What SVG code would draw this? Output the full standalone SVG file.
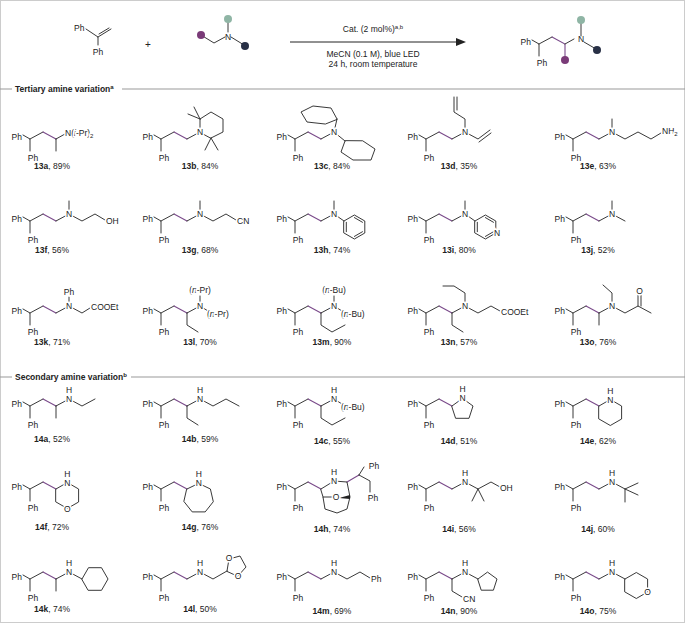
<svg xmlns="http://www.w3.org/2000/svg" width="685" height="624" viewBox="0 0 685 624">
<style>
text{font-family:"Liberation Sans",Arial,sans-serif;font-size:8.5px;fill:#222}
.b{stroke:#222;stroke-width:0.9;fill:none;stroke-linecap:round;stroke-linejoin:round}
.p{stroke:#7a4a8a;stroke-width:1.1;fill:none;stroke-linecap:round}
.a{stroke:#fff;stroke-width:3;paint-order:stroke;text-anchor:middle}
.m{text-anchor:middle}
.lab{text-anchor:middle;font-size:8.5px}
.hd{font-weight:bold;font-size:8.5px}
.g{stroke:#999;stroke-width:1}
</style>
<defs>
<g id="core"><path class="b" d="M-7,-4 L0,0 L0,12 M0,0 L13,-7"/><text x="-8" y="1" text-anchor="end">Ph</text><text x="3" y="22" class="m">Ph</text></g>
</defs>
<rect x="0.5" y="0.5" width="684" height="622" fill="#fff" stroke="#ccc"/>

<g id="scheme">
<text x="74" y="31">Ph</text>
<path class="b" d="M86,29 L98,37 L98,45 M98,37 L111,29 M99,34 L109,28"/>
<text x="98" y="55" class="m">Ph</text>
<text x="148" y="48" class="m" style="font-size:10px">+</text>
<path class="b" d="M201,35 L214,43 L225,37 M231,37 L244,45 M228,32 L228,20"/>
<circle cx="201" cy="35" r="4" fill="#7a3b78"/><circle cx="228" cy="19" r="4" fill="#8fb5a5"/><circle cx="245" cy="46" r="4" fill="#283046"/>
<text x="228" y="40" class="m">N</text>
<line x1="290" y1="42" x2="460" y2="42" stroke="#222" stroke-width="1"/>
<path d="M466,42 L456,38 L456,46 Z" fill="#222"/>
<text x="373" y="32" class="m">Cat. (2 mol%)<tspan dy="-3" style="font-size:6px">a,b</tspan></text>
<text x="373" y="57" class="m">MeCN (0.1 M), blue LED</text>
<text x="373" y="67" class="m">24 h, room temperature</text>
<use href="#core" x="539" y="44"/>
<path class="p" d="M552,37 L565,44 L565,58"/>
<path class="b" d="M565,44 L574,39 M581,36 L581,22 M584,42 L596,49"/>
<text x="581" y="42" class="m">N</text>
<circle cx="565" cy="60" r="4" fill="#7a3b78"/><circle cx="581" cy="20" r="4" fill="#8fb5a5"/><circle cx="597" cy="50" r="4" fill="#283046"/>
</g>

<g id="headers">
<line class="g" x1="0" y1="89" x2="12" y2="89"/><line class="g" x1="122" y1="89" x2="685" y2="89"/>
<text x="15" y="92" class="hd">Tertiary amine variation<tspan dy="-3" style="font-size:6px">a</tspan></text>
<line class="g" x1="0" y1="377" x2="12" y2="377"/><line class="g" x1="131" y1="377" x2="685" y2="377"/>
<text x="15" y="380" class="hd">Secondary amine variation<tspan dy="-3" style="font-size:6px">b</tspan></text>
</g>

<g id="c13a" transform="translate(30,139)"><use href="#core"/><path class="p" d="M13,-7 L26,0"/><path class="b" d="M26,0 L26,12 M26,0 L35,-5"/><text x="35" y="-3" class="a" style="text-anchor:start">N(<tspan font-style="italic">i</tspan>-Pr)<tspan dy="2" style="font-size:6px">2</tspan></text></g>
<g id="c13b" transform="translate(161,139)"><use href="#core"/><path class="p" d="M13,-7 L26,0"/><path class="b" d="M26,0 L39,-7 M39,-7 L39,-20 L50,-27 L62,-20 L62,-7 L50,-1 Z M39,-20 L27,-25 M39,-20 L33,-32 M50,-1 L44,11 M50,-1 L57,11"/><text x="39" y="-4" class="a">N</text></g>
<g id="c13c" transform="translate(295,139)"><use href="#core"/><path class="p" d="M13,-7 L26,0"/><path class="b" d="M26,0 L39,-7 L42,-20 M42,-20 L36,-31 L18,-33 L6,-27 L12,-17 L30,-15 Z M39,-7 L50,2 M50,2 L46,13 L58,21 L76,21 L80,10 L68,2 Z"/><text x="39" y="-4" class="a">N</text></g>
<g id="c13d" transform="translate(426,139)"><use href="#core"/><path class="p" d="M13,-7 L26,0"/><path class="b" d="M26,0 L39,-7 L39,-20 L28,-27 L28,-42 M31,-29 L31,-42 M39,-7 L52,0 L64,-9 M53,3 L65,-6"/><text x="39" y="-4" class="a">N</text></g>
<g id="c13e" transform="translate(573,139)"><use href="#core"/><path class="p" d="M13,-7 L26,0"/><path class="b" d="M26,0 L39,-7 L39,-20 M39,-7 L52,0 L65,-7 L78,0 L88,-6"/><text x="39" y="-4" class="a">N</text><text x="89" y="-5" class="a" style="text-anchor:start">NH<tspan dy="2" style="font-size:6px">2</tspan></text></g>

<g id="c13f" transform="translate(30,221)"><use href="#core"/><path class="p" d="M13,-7 L26,0"/><path class="b" d="M26,0 L39,-7 L39,-20 M39,-7 L52,0 L65,-7 L75,-1"/><text x="39" y="-4" class="a">N</text><text x="76" y="3" class="a" style="text-anchor:start">OH</text></g>
<g id="c13g" transform="translate(161,221)"><use href="#core"/><path class="p" d="M13,-7 L26,0"/><path class="b" d="M26,0 L39,-7 L39,-20 M39,-7 L52,0 L65,-7 L75,-1"/><text x="39" y="-4" class="a">N</text><text x="76" y="3" class="a" style="text-anchor:start">CN</text></g>
<g id="c13h" transform="translate(295,221)"><use href="#core"/><path class="p" d="M13,-7 L26,0"/><path class="b" d="M26,0 L39,-7 L39,-20 M39,-7 L49,0 M49,0 L59.4,-6 L69.8,0 L69.8,12 L59.4,18 L49,12 Z M59.4,-3.4 L67.5,1.3 M67.5,10.7 L59.4,15.4 M51.3,10.7 L51.3,1.3"/><text x="39" y="-4" class="a">N</text></g>
<g id="c13i" transform="translate(426,221)"><use href="#core"/><path class="p" d="M13,-7 L26,0"/><path class="b" d="M26,0 L39,-7 L39,-20 M39,-7 L49,0 M49,0 L59.4,-6 L69.8,0 L69.8,12 L59.4,18 L49,12 Z M59.4,-3.4 L67.5,1.3 M67.5,10.7 L59.4,15.4 M51.3,10.7 L51.3,1.3"/><text x="39" y="-4" class="a">N</text><text x="71" y="15" class="a">N</text></g>
<g id="c13j" transform="translate(573,221)"><use href="#core"/><path class="p" d="M13,-7 L26,0"/><path class="b" d="M26,0 L39,-7 L39,-20 M39,-7 L52,0"/><text x="39" y="-4" class="a">N</text></g>

<g id="c13k" transform="translate(30,313)"><use href="#core"/><path class="p" d="M13,-7 L26,0"/><path class="b" d="M26,0 L39,-7 L39,-16 M39,-7 L52,0 L60,-5"/><text x="39" y="-4" class="a">N</text><text x="39" y="-18" class="a">Ph</text><text x="61" y="-3" class="a" style="text-anchor:start">COOEt</text></g>
<g id="c13l" transform="translate(161,313)"><use href="#core"/><path class="p" d="M13,-7 L26,0"/><path class="b" d="M26,0 L26,12 L37,19 M26,0 L39,-7 L39,-17 M39,-7 L47,-2"/><text x="39" y="-4" class="a">N</text><text x="39" y="-20" class="a">(<tspan font-style="italic">n</tspan>-Pr)</text><text x="46" y="4" class="a" style="text-anchor:start">(<tspan font-style="italic">n</tspan>-Pr)</text></g>
<g id="c13m" transform="translate(295,313)"><use href="#core"/><path class="p" d="M13,-7 L26,0"/><path class="b" d="M26,0 L26,12 L37,19 L50,12 M26,0 L39,-7 L39,-17 M39,-7 L47,-2"/><text x="39" y="-4" class="a">N</text><text x="39" y="-20" class="a">(<tspan font-style="italic">n</tspan>-Bu)</text><text x="46" y="4" class="a" style="text-anchor:start">(<tspan font-style="italic">n</tspan>-Bu)</text></g>
<g id="c13n" transform="translate(426,313)"><use href="#core"/><path class="p" d="M13,-7 L26,0"/><path class="b" d="M26,0 L26,12 L37,19 M26,0 L39,-7 L39,-20 L28,-27 L17,-27 M39,-7 L52,0 L65,-7 L74,-2"/><text x="39" y="-4" class="a">N</text><text x="75" y="2" class="a" style="text-anchor:start">COOEt</text></g>
<g id="c13o" transform="translate(573,313)"><use href="#core"/><path class="p" d="M13,-7 L26,0"/><path class="b" d="M26,0 L26,12 M26,0 L39,-7 L39,-20 L30,-28 M39,-7 L52,0 L65,-7 L78,0 M65,-7 L65,-18 M68,-7 L68,-18"/><text x="39" y="-4" class="a">N</text><text x="66.5" y="-19" class="a">O</text></g>

<g id="c14a" transform="translate(30,406)"><use href="#core"/><path class="p" d="M13,-7 L26,0"/><path class="b" d="M26,0 L26,12 M26,0 L39,-7 L52,0 L65,-7"/><text x="39" y="-4" class="a">N</text><text x="39" y="-13" class="m">H</text></g>
<g id="c14b" transform="translate(161,406)"><use href="#core"/><path class="p" d="M13,-7 L26,0"/><path class="b" d="M26,0 L26,12 L37,19 M26,0 L39,-7 L52,0 L65,-7 L78,0"/><text x="39" y="-4" class="a">N</text><text x="39" y="-13" class="m">H</text></g>
<g id="c14c" transform="translate(295,406)"><use href="#core"/><path class="p" d="M13,-7 L26,0"/><path class="b" d="M26,0 L26,12 L37,19 L50,12 M26,0 L39,-7 L47,-2"/><text x="39" y="-4" class="a">N</text><text x="39" y="-13" class="m">H</text><text x="46" y="4" class="a" style="text-anchor:start">(<tspan font-style="italic">n</tspan>-Bu)</text></g>
<g id="c14d" transform="translate(426,406)"><use href="#core"/><path class="p" d="M13,-7 L26,0"/><path class="b" d="M26,0 L36.5,-7.6 L47,0 L43,12.3 L30,12.3 Z"/><text x="36.5" y="-4.6" class="a">N</text><text x="36.5" y="-13.6" class="m">H</text></g>
<g id="c14e" transform="translate(573,406)"><use href="#core"/><path class="p" d="M13,-7 L26,0"/><path class="b" d="M26,0 L37.3,-6.5 L48.6,0 L48.6,13 L37.3,19.5 L26,13 Z"/><text x="37.3" y="-3.5" class="a">N</text><text x="37.3" y="-12.5" class="m">H</text></g>

<g id="c14f" transform="translate(30,489)"><use href="#core"/><path class="p" d="M13,-7 L26,0"/><path class="b" d="M26,0 L37.3,-6.5 L48.6,0 L48.6,13 L37.3,19.5 L26,13 Z"/><text x="37.3" y="-3.5" class="a">N</text><text x="37.3" y="-12.5" class="m">H</text><text x="37.3" y="22.5" class="a">O</text></g>
<g id="c14g" transform="translate(161,489)"><use href="#core"/><path class="p" d="M13,-7 L26,0"/><path class="b" d="M26,0 L37.7,-5.6 L49.4,0 L52.3,12.7 L44.2,22.9 L31.2,22.9 L23.1,12.7 Z"/><text x="37.7" y="-2.6" class="a">N</text><text x="37.7" y="-11.6" class="m">H</text></g>
<g id="c14h" transform="translate(295,489)"><use href="#core"/><path class="p" d="M13,-7 L26,0 M52,-7 L64,-14"/><path class="b" d="M26,0 L39,-8 L52,-7 L55,8 L52,20 L42,24 L30,20 L28,8 Z M64,-14 L75,-8 L75,3 M64,-14 L69,-22 M28,8 L38,8"/><path d="M44,9 L55,6 L55,10 Z" fill="#222"/><text x="39" y="-5" class="a">N</text><text x="39" y="-14" class="m">H</text><text x="41" y="11" class="a">O</text><text x="79" y="-20" class="a">Ph</text><text x="78" y="12" class="a">Ph</text></g>
<g id="c14i" transform="translate(426,489)"><use href="#core"/><path class="p" d="M13,-7 L26,0"/><path class="b" d="M26,0 L39,-7 L52,0 L46,12 M52,0 L58,12 M52,0 L65,-7 L74,-2"/><text x="39" y="-4" class="a">N</text><text x="39" y="-13" class="m">H</text><text x="74" y="2" class="a" style="text-anchor:start">OH</text></g>
<g id="c14j" transform="translate(573,489)"><use href="#core"/><path class="p" d="M13,-7 L26,0"/><path class="b" d="M26,0 L39,-7 L52,0 L65,-6 M52,0 L65,6 M52,0 L52,13"/><text x="39" y="-4" class="a">N</text><text x="39" y="-13" class="m">H</text></g>

<g id="c14k" transform="translate(30,579)"><use href="#core"/><path class="p" d="M13,-7 L26,0"/><path class="b" d="M26,0 L26,12 M26,0 L39,-7 L52,0 M52,0 L58.5,-11.3 L71.5,-11.3 L78,0 L71.5,11.3 L58.5,11.3 Z"/><text x="39" y="-4" class="a">N</text><text x="39" y="-13" class="m">H</text></g>
<g id="c14l" transform="translate(161,579)"><use href="#core"/><path class="p" d="M13,-7 L26,0"/><path class="b" d="M26,0 L39,-7 L52,0 L66,-8 M66,-8 L68,-20 L79,-23 L85,-12 L77,-3 Z"/><text x="39" y="-4" class="a">N</text><text x="39" y="-13" class="m">H</text><text x="68" y="-18" class="a">O</text><text x="77" y="0" class="a">O</text></g>
<g id="c14m" transform="translate(295,579)"><use href="#core"/><path class="p" d="M13,-7 L26,0"/><path class="b" d="M26,0 L39,-7 L52,0 L65,-7 L75,-1"/><text x="39" y="-4" class="a">N</text><text x="39" y="-13" class="m">H</text><text x="76" y="3" class="a" style="text-anchor:start">Ph</text></g>
<g id="c14n" transform="translate(426,579)"><use href="#core"/><path class="p" d="M13,-7 L26,0"/><path class="b" d="M26,0 L26,12 L36,18 M26,0 L39,-7 L52,0 M52,0 L61.5,-6.9 L71,0 L67.4,11.2 L55.6,11.2 Z"/><text x="39" y="-4" class="a">N</text><text x="39" y="-13" class="m">H</text><text x="37" y="23" class="a" style="text-anchor:start">CN</text></g>
<g id="c14o" transform="translate(573,579)"><use href="#core"/><path class="p" d="M13,-7 L26,0"/><path class="b" d="M26,0 L39,-7 L52,0 M52,0 L63.3,-6.5 L74.6,0 L74.6,13 L63.3,19.5 L52,13 Z"/><text x="39" y="-4" class="a">N</text><text x="39" y="-13" class="m">H</text><text x="74.6" y="16" class="a">O</text></g>

<g id="labels">
<text x="52" y="169" class="lab"><tspan font-weight="bold">13a</tspan>, 89%</text>
<text x="200" y="169" class="lab"><tspan font-weight="bold">13b</tspan>, 84%</text>
<text x="332" y="169" class="lab"><tspan font-weight="bold">13c</tspan>, 84%</text>
<text x="459" y="169" class="lab"><tspan font-weight="bold">13d</tspan>, 35%</text>
<text x="598" y="169" class="lab"><tspan font-weight="bold">13e</tspan>, 63%</text>
<text x="52" y="253" class="lab"><tspan font-weight="bold">13f</tspan>, 56%</text>
<text x="200" y="253" class="lab"><tspan font-weight="bold">13g</tspan>, 68%</text>
<text x="332" y="253" class="lab"><tspan font-weight="bold">13h</tspan>, 74%</text>
<text x="459" y="253" class="lab"><tspan font-weight="bold">13i</tspan>, 80%</text>
<text x="598" y="253" class="lab"><tspan font-weight="bold">13j</tspan>, 52%</text>
<text x="52" y="345" class="lab"><tspan font-weight="bold">13k</tspan>, 71%</text>
<text x="200" y="345" class="lab"><tspan font-weight="bold">13l</tspan>, 70%</text>
<text x="332" y="345" class="lab"><tspan font-weight="bold">13m</tspan>, 90%</text>
<text x="459" y="345" class="lab"><tspan font-weight="bold">13n</tspan>, 57%</text>
<text x="598" y="345" class="lab"><tspan font-weight="bold">13o</tspan>, 76%</text>
<text x="52" y="442" class="lab"><tspan font-weight="bold">14a</tspan>, 52%</text>
<text x="200" y="442" class="lab"><tspan font-weight="bold">14b</tspan>, 59%</text>
<text x="332" y="444" class="lab"><tspan font-weight="bold">14c</tspan>, 55%</text>
<text x="459" y="444" class="lab"><tspan font-weight="bold">14d</tspan>, 51%</text>
<text x="598" y="444" class="lab"><tspan font-weight="bold">14e</tspan>, 62%</text>
<text x="52" y="530" class="lab"><tspan font-weight="bold">14f</tspan>, 72%</text>
<text x="200" y="530" class="lab"><tspan font-weight="bold">14g</tspan>, 76%</text>
<text x="332" y="532" class="lab"><tspan font-weight="bold">14h</tspan>, 74%</text>
<text x="459" y="532" class="lab"><tspan font-weight="bold">14i</tspan>, 56%</text>
<text x="598" y="532" class="lab"><tspan font-weight="bold">14j</tspan>, 60%</text>
<text x="52" y="612" class="lab"><tspan font-weight="bold">14k</tspan>, 74%</text>
<text x="200" y="612" class="lab"><tspan font-weight="bold">14l</tspan>, 50%</text>
<text x="332" y="614" class="lab"><tspan font-weight="bold">14m</tspan>, 69%</text>
<text x="459" y="614" class="lab"><tspan font-weight="bold">14n</tspan>, 90%</text>
<text x="598" y="614" class="lab"><tspan font-weight="bold">14o</tspan>, 75%</text>
</g>
</svg>
